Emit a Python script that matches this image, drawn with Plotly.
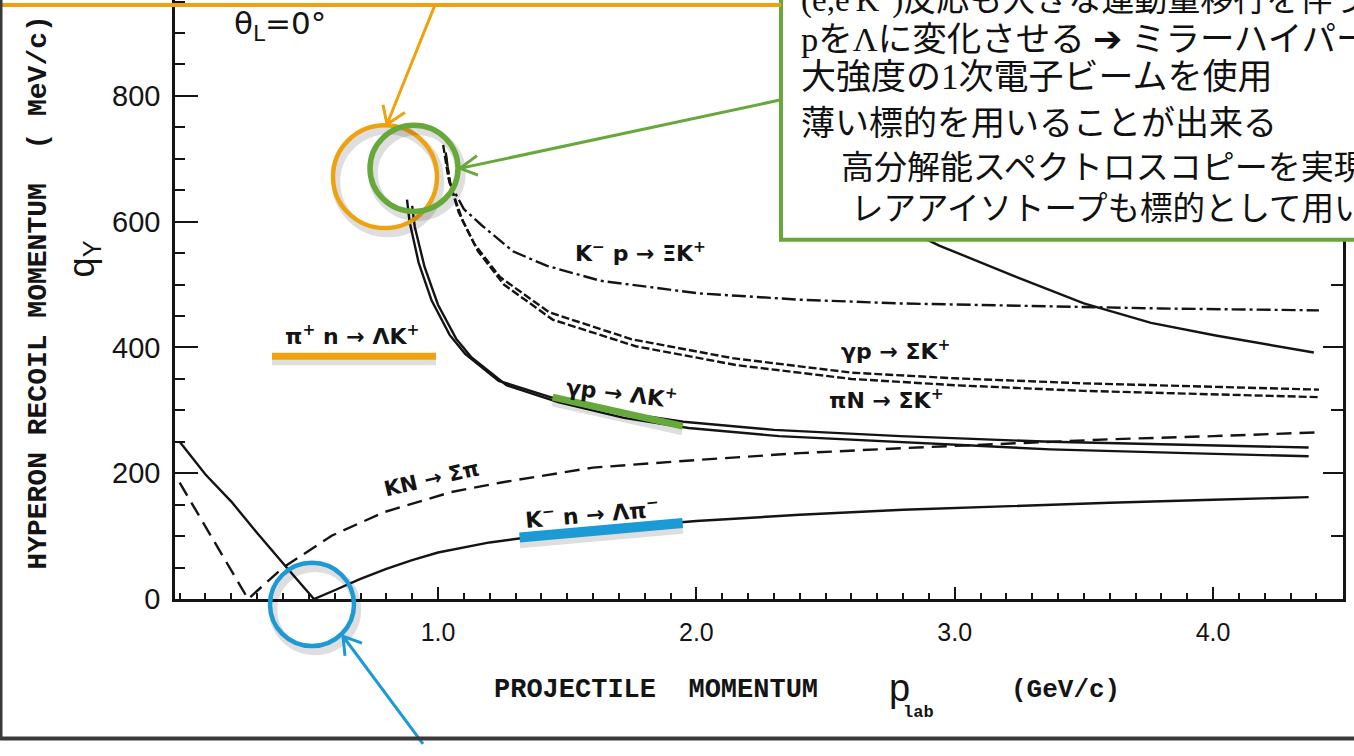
import plotly.graph_objects as go

W, H = 1354, 756

# ---- hyperon recoil momentum q (MeV/c) vs projectile momentum p_lab (GeV/c), theta_L = 0 ----
# K- n -> Lambda pi-  (|q|, V-shaped around the magic momentum)
kn_lpi_p = [0.0, 0.1, 0.2, 0.3, 0.4, 0.52, 0.6, 0.7, 0.8, 0.9, 1.0, 1.2, 1.4, 1.7, 2.0, 2.4, 2.8, 3.2, 3.6, 4.0, 4.37]
kn_lpi_q = [250, 198, 155, 105, 57, 0, 14, 32, 48, 62, 74, 90, 101, 114, 124, 134, 142, 148, 153, 158, 162]

# KN -> Sigma pi
kn_spi_p = [0.0, 0.13, 0.265, 0.4, 0.59, 0.79, 1.05, 1.24, 1.6, 2.0, 2.4, 2.8, 3.2, 3.6, 4.0, 4.4]
kn_spi_q = [185, 95, 0, 50, 101, 138, 170, 185, 209, 221, 232, 240, 247, 254, 259, 265]

# pi+ n -> Lambda K+  and  gamma p -> Lambda K+
pin_lk_p = [0.88, 0.89, 0.925, 0.975, 1.045, 1.105, 1.235, 1.435, 1.7, 1.95, 2.3, 2.79, 3.37, 3.9, 4.37]
pin_lk_q = [635, 600, 535, 475, 420, 390, 347, 321, 297, 282, 269, 259, 250, 245, 241]
gp_lk_p = [0.9, 0.91, 0.948, 1.0, 1.07, 1.13, 1.265, 1.465, 1.72, 1.97, 2.32, 2.8, 3.37, 3.9, 4.37]
gp_lk_q = [625, 592, 528, 468, 414, 384, 340, 313, 288, 272, 259, 249, 238, 232, 227]

# gamma p -> Sigma K+  and  pi N -> Sigma K+
gp_sk_p = [1.02, 1.04, 1.08, 1.14, 1.24, 1.43, 1.75, 2.14, 2.6, 3.0, 3.5, 4.0, 4.41]
gp_sk_q = [722, 670, 615, 565, 512, 456, 413, 383, 360, 351, 343, 337, 333]
pin_sk_p = [1.03, 1.05, 1.095, 1.155, 1.255, 1.445, 1.765, 2.155, 2.6, 3.0, 3.5, 4.0, 4.41]
pin_sk_q = [705, 655, 602, 553, 500, 444, 402, 372, 350, 340, 331, 325, 321]

# K- p -> Xi K+
kp_xk_p = [1.03, 1.045, 1.1, 1.17, 1.29, 1.42, 1.63, 2.01, 2.4, 2.79, 3.3, 3.8, 4.41]
kp_xk_q = [710, 662, 620, 594, 553, 530, 506, 486, 476, 470, 466, 462, 459]

# upper solid curve at high momentum
hi_p = [2.75, 2.94, 3.24, 3.5, 3.76, 4.01, 4.39]
hi_q = [600, 562, 512, 470, 439, 419, 392]

# highlighted momentum windows
blue_bar_p, blue_bar_q = [1.316, 1.947], [98, 121]
green_bar_p, green_bar_q = [1.444, 1.947], [321, 275]

x_ticks = [1, 2, 3, 4]
x_ticktext = ["1.0", "2.0", "3.0", "4.0"]

ORANGE = "#EFA20F"
GREEN = "#67A83B"
BLUE = "#1C9AD6"
INK = "#141414"
SHADOW = "rgba(0,0,0,0.13)"

fig = go.Figure()


def curve(p, q, dash):
    fig.add_trace(go.Scatter(x=p, y=q, mode="lines", showlegend=False, hoverinfo="skip",
                             line=dict(color=INK, width=2.4, dash=dash)))


curve(kn_lpi_p, kn_lpi_q, "solid")
curve(kn_spi_p, kn_spi_q, "15px,8px")
curve(pin_lk_p, pin_lk_q, "solid")
curve(gp_lk_p, gp_lk_q, "solid")
curve(gp_sk_p, gp_sk_q, "8px,3px")
curve(pin_sk_p, pin_sk_q, "8px,3px")
curve(kp_xk_p, kp_xk_q, "14px,4px,3px,4px")
curve(hi_p, hi_q, "solid")
# right-hand axis carrier
fig.add_trace(go.Scatter(x=[None], y=[None], yaxis="y2", showlegend=False, hoverinfo="skip"))


def px(x):
    return x / W


def py(y):
    return 1 - y / H


def path(*segs):
    out = []
    for seg in segs:
        pts = [f"{px(x):.5f},{py(y):.5f}" for x, y in seg]
        out.append("M " + " L ".join(pts))
    return " ".join(out)


shapes = []


def pline(segs, color, width, layer="above"):
    shapes.append(dict(type="path", xref="paper", yref="paper", path=path(*segs),
                       line=dict(color=color, width=width), layer=layer))


def ring(x0, y0, x1, y1, color, width, shadow=True):
    if shadow:
        shapes.append(dict(type="circle", xref="paper", yref="paper",
                           x0=px(x0 + 3), x1=px(x1 + 3), y0=py(y1 + 5), y1=py(y0 + 5),
                           line=dict(color=SHADOW, width=width + 4)))
    shapes.append(dict(type="circle", xref="paper", yref="paper",
                       x0=px(x0), x1=px(x1), y0=py(y1), y1=py(y0),
                       line=dict(color=color, width=width)))


def data_bar(p, q, color, width):
    shapes.append(dict(type="line", xref="x", yref="y", x0=p[0], x1=p[1], y0=q[0] - 6, y1=q[1] - 6,
                       line=dict(color=SHADOW, width=width + 4)))
    shapes.append(dict(type="line", xref="x", yref="y", x0=p[0], x1=p[1], y0=q[0], y1=q[1],
                       line=dict(color=color, width=width)))


# highlight bars on curves
data_bar(blue_bar_p, blue_bar_q, BLUE, 10)
data_bar(green_bar_p, green_bar_q, GREEN, 7)
# underline of the pi+ n label
shapes.append(dict(type="line", xref="paper", yref="paper", x0=px(272), x1=px(436), y0=py(368), y1=py(368),
                   line=dict(color=SHADOW, width=10)))
shapes.append(dict(type="line", xref="paper", yref="paper", x0=px(272), x1=px(436), y0=py(364), y1=py(364),
                   line=dict(color=ORANGE, width=7)))

# text box
shapes.append(dict(type="rect", xref="paper", yref="paper", x0=px(781), x1=px(W + 20), y0=py(245), y1=py(-20),
                   fillcolor="white", line=dict(color=GREEN, width=4), layer="above"))

# orange marker: top rule, arrow, ring
pline([[(0, 5), (781, 5)]], ORANGE, 4)
pline([[(435, 5), (387, 127)], [(383, 107), (387, 127), (405, 115)]], ORANGE, 3)
ring(333, 128, 437, 233, ORANGE, 4.5)
# green marker
ring(370, 128, 458, 216, GREEN, 5.5)
pline([[(781, 102), (460, 172)], [(477, 159), (460, 172), (478, 179)]], GREEN, 3)
# blue marker
ring(270, 575, 354, 660, BLUE, 4.5)
pline([[(423, 760), (343, 650)], [(362, 657), (343, 650), (345, 670)]], BLUE, 3)

# slide frame edges
shapes.append(dict(type="line", xref="paper", yref="paper", x0=px(1), x1=px(1), y0=0, y1=1,
                   line=dict(color="#3a3a3a", width=3)))
shapes.append(dict(type="line", xref="paper", yref="paper", x0=0, x1=1, y0=py(754.5), y1=py(754.5),
                   line=dict(color="#3a3a3a", width=4)))

annotations = []


def label(x, y, text, size, family="DejaVu Sans", angle=0, anchor="center", color=INK):
    annotations.append(dict(xref="paper", yref="paper", x=px(x), y=py(y), text=text, showarrow=False,
                            xanchor=anchor, yanchor="middle", textangle=angle,
                            font=dict(family=family, size=size, color=color)))


NB = "\u00a0"
# reaction labels
label(280, 26, "θ<sub>L</sub>=0°", 31)
label(352, 342, f"<b>π<sup>+</sup>{NB}n{NB}→{NB}ΛK<sup>+</sup></b>", 22)
label(640, 257, f"<b>K<sup>−</sup>{NB}p{NB}→{NB}ΞK<sup>+</sup></b>", 22)
label(895, 358, f"<b>γp{NB}→{NB}ΣK<sup>+</sup></b>", 22)
label(886, 408, f"<b>πN{NB}→{NB}ΣK<sup>+</sup></b>", 22)
label(621, 400, f"<b>γp{NB}→{NB}ΛK<sup>+</sup></b>", 22, angle=7)
label(431, 489, f"<b>KN{NB}→{NB}Σπ</b>", 21, angle=-13)
label(592, 524, f"<b>K<sup>−</sup>{NB}n{NB}→{NB}Λπ<sup>−</sup></b>", 22, angle=-5)

# axis titles
MONO = "Liberation Mono"
ytitle = f"<b>HYPERON{NB}RECOIL{NB}MOMENTUM{NB}{NB}({NB}MeV/c)</b>"
label(39, 299, ytitle, 28, family=MONO, angle=-90)
label(84, 265, "q<sub>Y</sub>", 36, family="Liberation Sans", angle=-90)
label(656, 705, f"<b>PROJECTILE{NB}{NB}MOMENTUM</b>", 27, family=MONO)
label(899, 703, "p", 38, family="Liberation Sans")
label(919, 728, "<b>lab</b>", 17, family=MONO)
label(1065, 705, "<b>(GeV/c)</b>", 26, family=MONO)

# text box contents: (left x, centre y, text, font size)
JP = "Liberation Serif, Noto Sans CJK JP"
box_lines = [
    (799, -3, "(e,e'K<sup>+</sup>)反応も大きな運動量移行を伴う", 33),
    (799, 40, "pをΛに変化させる ➔ ミラーハイパー核", 34.5),
    (799, 79, "大強度の1次電子ビームを使用", 35),
    (799, 126, "薄い標的を用いることが出来る", 34),
    (839, 172, "高分解能スペクトロスコピーを実現", 33),
    (849, 214, "レアアイソトープも標的として用いる", 32.5),
]
for x, y, t, s in box_lines:
    label(x, y, t, s, family=JP, anchor="left", color="#111111")

tick_font = dict(family="Liberation Sans", size=29, color=INK)

fig.update_layout(
    width=W, height=H, margin=dict(l=0, r=0, t=0, b=0),
    paper_bgcolor="white", plot_bgcolor="white",
    showlegend=False,
    xaxis=dict(domain=[175 / W, 1343 / W], range=[-0.018, 4.503], showline=True, linecolor=INK, linewidth=2.5,
               showgrid=False, zeroline=False, ticks="inside", tickmode="array", tickvals=x_ticks,
               ticktext=x_ticktext, ticklen=12, tickwidth=2, tickcolor=INK, ticklabelstandoff=9,
               tickfont=dict(family="Liberation Sans", size=25, color=INK),
               minor=dict(ticks="inside", dtick=0.1, tick0=0, ticklen=6, tickwidth=1.5, tickcolor=INK,
                          showgrid=False),
               anchor="y"),
    yaxis=dict(domain=[(H - 612) / H, 1], range=[0, 952.5], showline=True, linecolor=INK, linewidth=2.5,
               showgrid=False, zeroline=False, ticks="inside", dtick=200, tick0=0, ticklen=23, tickwidth=2,
               tickcolor=INK, ticklabelstandoff=6, tickfont=tick_font,
               minor=dict(ticks="inside", dtick=50, tick0=0, ticklen=10, tickwidth=1.5, tickcolor=INK,
                          showgrid=False),
               anchor="x"),
    yaxis2=dict(overlaying="y", side="right", range=[0, 952.5], showline=True, linecolor=INK, linewidth=2.5,
                showgrid=False, zeroline=False, showticklabels=False, ticks="inside", dtick=200, tick0=0,
                ticklen=20, tickwidth=2, tickcolor=INK,
                minor=dict(ticks="inside", dtick=100, tick0=0, ticklen=12, tickwidth=1.5, tickcolor=INK),
                anchor="x"),
    shapes=shapes,
    annotations=annotations,
)

fig.write_html("out.html")
